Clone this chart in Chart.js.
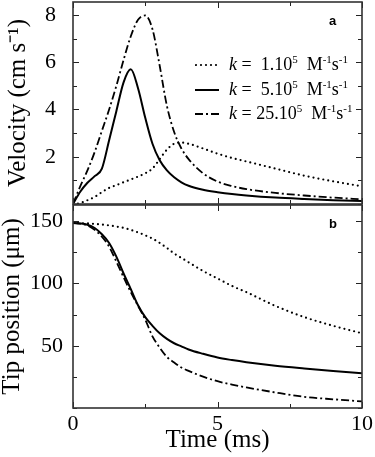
<!DOCTYPE html>
<html>
<head>
<meta charset="utf-8">
<script src="https://cdn.jsdelivr.net/npm/chart.js@4.4.0/dist/chart.umd.min.js"></script>
<style>
  body { margin: 0; background: #fff; }
  #wrap { position: relative; width: 375px; height: 457px; overflow: hidden; }
  canvas { position: absolute; left: 0; }
  #velCanvas { top: 0; }
  #posCanvas { top: 204px; }
  .key { position: absolute; left: 195px; width: 170px; height: 20px; font: 18px "Liberation Serif", "Times New Roman", serif; line-height: 18px; white-space: nowrap; color: #000; }
  .key svg { position: absolute; left: 0; top: 7px; }
  .key span { position: absolute; left: 34px; top: 0; }
  .key sup { font-size: 11px; vertical-align: baseline; position: relative; top: -7px; line-height: 0; }
  .tag { position: absolute; font: bold 13px "Liberation Sans", Arial, sans-serif; color: #000; }
</style>
</head>
<body>
<div id="wrap">
  <canvas id="velCanvas" width="375" height="205"></canvas>
  <canvas id="posCanvas" width="375" height="253"></canvas>

  <div class="key" style="top:55px">
    <svg width="24" height="6"><line x1="1" y1="3" x2="23" y2="3" stroke="#000" stroke-width="2.2" stroke-dasharray="0 5" stroke-linecap="round"/></svg>
    <span><i>k</i> =&nbsp; 1.10<sup>5</sup>&nbsp; M<sup>-1</sup>s<sup>-1</sup></span>
  </div>
  <div class="key" style="top:80px">
    <svg width="24" height="6"><line x1="0" y1="3" x2="24" y2="3" stroke="#000" stroke-width="2"/></svg>
    <span><i>k</i> =&nbsp; 5.10<sup>5</sup>&nbsp; M<sup>-1</sup>s<sup>-1</sup></span>
  </div>
  <div class="key" style="top:104px">
    <svg width="24" height="6"><line x1="0" y1="3" x2="24" y2="3" stroke="#000" stroke-width="1.8" stroke-dasharray="8 3 2 3"/></svg>
    <span><i>k</i> = 25.10<sup>5</sup>&nbsp; M<sup>-1</sup>s<sup>-1</sup></span>
  </div>

  <div class="tag" style="left:329px; top:13px">a</div>
  <div class="tag" style="left:329px; top:216px">b</div>
</div>

<script>
// time axis (ms), shared by every curve
const timeMs = [0, 0.25, 0.5, 0.75, 1, 1.25, 1.5, 1.75, 2, 2.25, 2.5, 2.75, 3, 3.25, 3.5, 3.75, 4, 4.5, 5, 5.5, 6, 7, 8, 9, 10];

// panel a: velocity (cm/s)
const velK1  = [0, 0.04, 0.16, 0.3, 0.5, 0.68, 0.8, 0.92, 1.04, 1.16, 1.3, 1.5, 1.9, 2.3, 2.55, 2.6, 2.55, 2.35, 2.13, 1.95, 1.8, 1.5, 1.2, 0.96, 0.75];
const velK5  = [0, 0.52, 0.9, 1.18, 1.5, 2.7, 3.93, 5.15, 5.7, 4.9, 3.65, 2.55, 1.85, 1.42, 1.13, 0.92, 0.77, 0.6, 0.5, 0.42, 0.36, 0.27, 0.21, 0.16, 0.13];
const velK25 = [0, 0.75, 1.42, 2.2, 3.1, 4.0, 5.0, 6.1, 7.1, 7.8, 7.98, 7.4, 5.85, 4.15, 3.05, 2.35, 1.9, 1.3, 0.95, 0.76, 0.63, 0.47, 0.36, 0.27, 0.2];

// panel b: tip position (um)
const posK1  = [148.5, 148.4, 148.2, 147.8, 147.3, 146.6, 145.7, 144.6, 143, 141, 138.6, 136, 132.5, 128.5, 124, 120.5, 117, 110, 104, 98, 93, 82, 73, 66, 60];
const posK5  = [148.5, 148.2, 147.2, 144.5, 139.5, 132.5, 121.5, 108, 95.5, 82.5, 73, 66, 60, 55.5, 52, 49.5, 47, 43.5, 40.5, 38.5, 36.8, 34, 31.8, 29.8, 28];
const posK25 = [148.5, 148, 146.5, 143, 137.5, 129.5, 117.5, 105, 93, 82, 71, 57.5, 48.5, 41, 36.5, 32.5, 29.8, 25.2, 21.5, 18.8, 16.5, 12.5, 9, 7, 5.3];

// ticks
const xTickValues = [0, 2.5, 5, 7.5, 10];
const xLabelValues = [0, 5, 10];
const velTicks = [0, 1, 2, 3, 4, 5, 6, 7, 8];
const velLabels = [2, 4, 6, 8];
const posTicks = [0, 25, 50, 75, 100, 125, 150];
const posLabels = [50, 100, 150];

Chart.defaults.font.family = '"Liberation Serif", "Times New Roman", serif';
Chart.defaults.color = '#000';

const pts = vals => timeMs.map((t, i) => ({ x: t, y: vals[i] }));

const lineStyles = [
  { borderDash: [0, 5], borderCapStyle: 'round', borderWidth: 2.2 },
  { borderDash: [], borderWidth: 2 },
  { borderDash: [8, 3, 2, 3], borderWidth: 1.8 }
];

function makeSets(series) {
  return series.map((vals, i) => Object.assign({
    data: pts(vals),
    borderColor: '#000',
    pointRadius: 0,
    fill: false,
    cubicInterpolationMode: 'monotone'
  }, lineStyles[i]));
}

// keep the axes from reserving room for label overflow
function fixWidth(w) {
  return s => { s.width = w; s.paddingTop = 0; s.paddingBottom = 0; };
}
function fixHeight(h) {
  return s => { s.height = h; s.paddingLeft = 0; s.paddingRight = 0; };
}

// frame + inward tick marks on all four sides
function frameTicks(yTicks, yLabels) {
  return {
    id: 'frameTicks',
    afterDatasetsDraw(chart) {
      const { ctx, chartArea: a, scales: { x, y } } = chart;
      ctx.save();
      ctx.strokeStyle = '#222';
      ctx.lineWidth = 1;
      ctx.beginPath();
      xTickValues.forEach(v => {
        const px = Math.round(x.getPixelForValue(v)) + 0.5;
        const len = xLabelValues.includes(v) ? 6 : 4;
        ctx.moveTo(px, a.top); ctx.lineTo(px, a.top + len);
        ctx.moveTo(px, a.bottom); ctx.lineTo(px, a.bottom - len);
      });
      yTicks.forEach(v => {
        const py = Math.round(y.getPixelForValue(v)) + 0.5;
        const len = yLabels.includes(v) ? 6 : 4;
        ctx.moveTo(a.left, py); ctx.lineTo(a.left + len, py);
        ctx.moveTo(a.right, py); ctx.lineTo(a.right - len, py);
      });
      ctx.stroke();
      ctx.lineWidth = 1.6;
      ctx.strokeStyle = '#333';
      ctx.strokeRect(a.left, a.top, a.right - a.left, a.bottom - a.top);
      ctx.restore();
    }
  };
}

const noPlugins = { legend: { display: false }, tooltip: { enabled: false } };

new Chart(document.getElementById('velCanvas'), {
  type: 'line',
  data: { datasets: makeSets([velK1, velK5, velK25]) },
  options: {
    responsive: false,
    animation: false,
    layout: { padding: { top: 2, right: 13, bottom: 1, left: 0 } },
    plugins: noPlugins,
    scales: {
      x: { type: 'linear', min: 0, max: 10, display: false },
      y: {
        min: 0, max: 8.55,
        afterFit: fixWidth(73),
        afterBuildTicks: s => { s.ticks = velLabels.map(v => ({ value: v })); },
        grid: { display: false, drawTicks: false },
        border: { display: false },
        ticks: { font: { size: 22 }, padding: 17 },
        title: { display: true, text: 'Velocity (cm s\u207B\u00B9)', font: { size: 25, lineHeight: 1 }, padding: { top: 6, bottom: 0 } }
      }
    }
  },
  plugins: [frameTicks(velTicks, velLabels)]
});

new Chart(document.getElementById('posCanvas'), {
  type: 'line',
  data: { datasets: makeSets([posK1, posK5, posK25]) },
  options: {
    responsive: false,
    animation: false,
    layout: { padding: { top: 1, right: 13, bottom: 0, left: 0 } },
    plugins: noPlugins,
    scales: {
      x: {
        type: 'linear', min: 0, max: 10,
        afterFit: fixHeight(49),
        afterBuildTicks: s => { s.ticks = xLabelValues.map(v => ({ value: v })); },
        grid: { display: false, drawTicks: false },
        border: { display: false },
        ticks: { font: { size: 22 }, padding: 3, maxRotation: 0, autoSkip: false },
        title: { display: true, text: 'Time (ms)', font: { size: 25, lineHeight: 1 }, padding: { top: 0, bottom: 4 } }
      },
      y: {
        min: 0, max: 163,
        afterFit: fixWidth(73),
        afterBuildTicks: s => { s.ticks = posLabels.map(v => ({ value: v })); },
        grid: { display: false, drawTicks: false },
        border: { display: false },
        ticks: { font: { size: 22 }, padding: 10 },
        title: { display: true, text: 'Tip position (\u03BCm)', font: { size: 25, lineHeight: 1 }, padding: { top: 0, bottom: 0 } }
      }
    }
  },
  plugins: [frameTicks(posTicks, posLabels)]
});
</script>
</body>
</html>
